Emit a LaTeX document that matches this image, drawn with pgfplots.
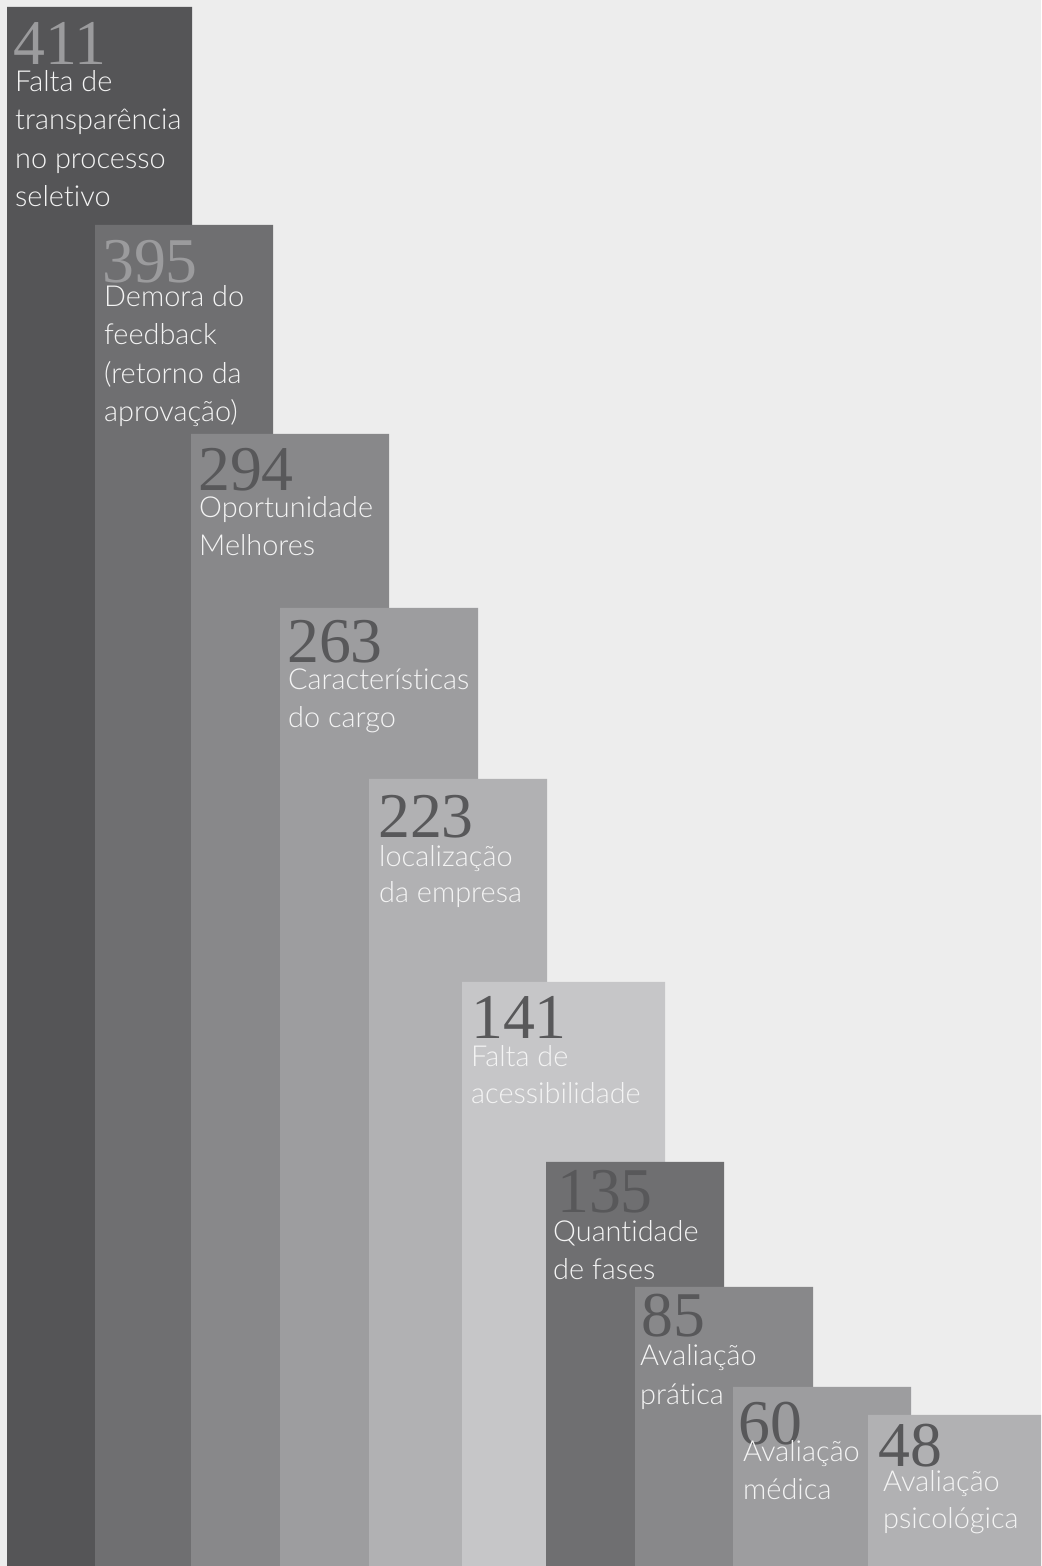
\documentclass[border=0pt]{standalone}
\usepackage{fontspec}
\setmainfont{Lato}[UprightFont=* Light, Ligatures=NoCommon]
\newfontfamily\numfont{Liberation Serif}
\usepackage{pgfplots}
\pgfplotsset{compat=1.18}
\definecolor{bgc}{HTML}{EDEDED}
\definecolor{cA}{HTML}{555557}
\definecolor{cB}{HTML}{6F6F71}
\definecolor{cC}{HTML}{88888A}
\definecolor{cD}{HTML}{9D9D9F}
\definecolor{cE}{HTML}{B1B1B3}
\definecolor{cF}{HTML}{C6C6C8}
\definecolor{numlight}{HTML}{9B9B9D}
\definecolor{numdark}{HTML}{58585A}
\definecolor{lblc}{HTML}{F4F4F4}
\newcommand{\num}[4]{\node[anchor=base west,inner sep=0pt,text=#4,font=\numfont\fontsize{64}{64}\selectfont] at (axis cs:#1,#2) {#3};}
\newcommand{\lbl}[3]{\node[anchor=base west,inner sep=0pt,text=lblc,font=\fontsize{29}{34}\selectfont] at (axis cs:#1,#2) {#3};}
\begin{document}
\begin{tikzpicture}
\begin{axis}[
  width=1041bp, height=1566bp, scale only axis,
  xmin=0, xmax=1041, ymin=0, ymax=1566,
  axis lines=none, ticks=none,
  axis background/.style={fill=bgc},
  clip=true,
]
% bars: left, right, drawn height (value shown as label)
% 411
\addplot[fill=cA, draw=none] coordinates {(7,0) (7,1559) (192,1559) (192,0)} \closedcycle;
\num{13}{1501}{411}{numlight}
\lbl{15}{1474}{Falta de}
\lbl{15}{1436}{transparência}
\lbl{15}{1397}{no processo}
\lbl{15}{1359}{seletivo}
% 395
\addplot[fill=cB, draw=none] coordinates {(95,0) (95,1341) (273,1341) (273,0)} \closedcycle;
\num{102}{1283}{395}{numlight}
\lbl{104}{1259}{Demora do}
\lbl{104}{1221}{feedback}
\lbl{104}{1182}{(retorno da}
\lbl{104}{1144}{aprovação)}
% 294
\addplot[fill=cC, draw=none] coordinates {(191,0) (191,1132) (389,1132) (389,0)} \closedcycle;
\num{198}{1075}{294}{numdark}
\lbl{199}{1048}{Oportunidade}
\lbl{199}{1010}{Melhores}
% 263
\addplot[fill=cD, draw=none] coordinates {(280,0) (280,958) (478,958) (478,0)} \closedcycle;
\num{287}{903}{263}{numdark}
\lbl{288}{876}{Características}
\lbl{288}{838}{do cargo}
% 223
\addplot[fill=cE, draw=none] coordinates {(369,0) (369,787) (547,787) (547,0)} \closedcycle;
\num{378}{728}{223}{numdark}
\lbl{379}{699}{localização}
\lbl{379}{663}{da empresa}
% 141
\addplot[fill=cF, draw=none] coordinates {(462,0) (462,584) (665,584) (665,0)} \closedcycle;
\num{471}{527}{141}{numdark}
\lbl{471}{499}{Falta de}
\lbl{471}{462}{acessibilidade}
% 135
\addplot[fill=cB, draw=none] coordinates {(546,0) (546,404) (724,404) (724,0)} \closedcycle;
\num{557}{353}{135}{numdark}
\lbl{553}{324}{Quantidade}
\lbl{553}{286}{de fases}
% 85
\addplot[fill=cC, draw=none] coordinates {(635,0) (635,279) (813,279) (813,0)} \closedcycle;
\num{641}{229}{85}{numdark}
\lbl{640}{200}{Avaliação}
\lbl{640}{161}{prática}
% 60
\addplot[fill=cD, draw=none] coordinates {(733,0) (733,179) (911,179) (911,0)} \closedcycle;
\num{738}{121}{60}{numdark}
\lbl{743}{104}{Avaliação}
\lbl{743}{66}{médica}
% 48
\addplot[fill=cE, draw=none] coordinates {(868,0) (868,151) (1041,151) (1041,0)} \closedcycle;
\num{878}{99}{48}{numdark}
\lbl{883}{74}{Avaliação}
\lbl{883}{37}{psicológica}
\end{axis}
\end{tikzpicture}
\end{document}
